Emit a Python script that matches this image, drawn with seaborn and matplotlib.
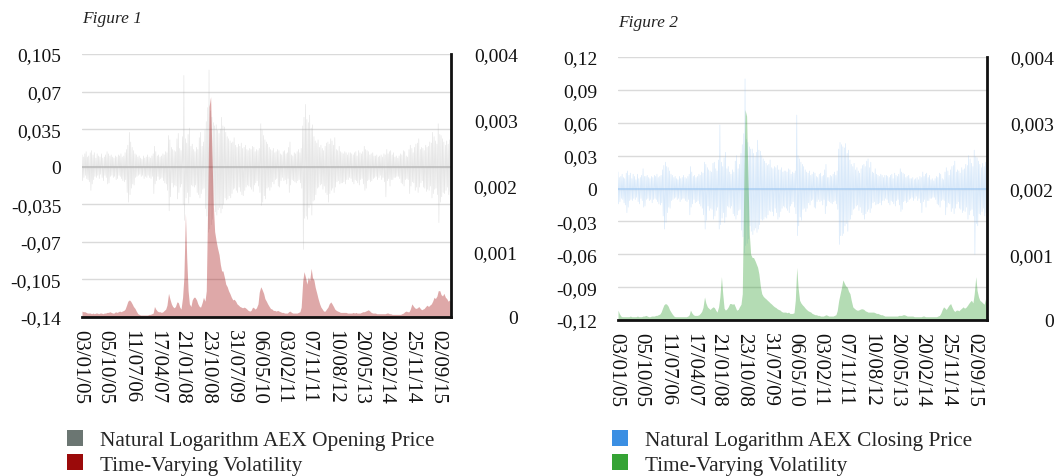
import numpy as np
import pandas as pd
import matplotlib
matplotlib.use("Agg")
import matplotlib.pyplot as plt
import seaborn as sns
from matplotlib.patches import Patch

# ---------------------------------------------------------------- data
date_labels = ["03/01/05", "05/10/05", "11/07/06", "17/04/07", "21/01/08",
               "23/10/08", "31/07/09", "06/05/10", "03/02/11", "07/11/11",
               "10/08/12", "20/05/13", "20/02/14", "25/11/14", "02/09/15"]

# Log returns (percent), four readings a month (1st, 8th, 15th, 22nd), 2005-2015
ret_open = [
    1.1, -1.3, 0.9, -1.0, 1.2, -0.8, 1.4, -1.1, 0.9, -1.2, 1.0, -1.4, 1.3, -2.2, 1.5, -1.6, 1.1, -1.2, 1.3, -0.9, 0.8, -1.0, 1.2, -0.8,
    1.0, -1.1, 0.9, -0.7, 1.2, -1.0, 0.8, -1.3, 0.9, -0.8, 1.1, -1.0, 1.4, -1.6, 1.2, -1.5, 1.0, -0.9, 1.1, -0.8, 0.9, -1.0, 0.8, -0.9,
    1.0, -1.2, 0.9, -1.1, 1.1, -0.8, 1.0, -0.9, 1.2, -1.1, 0.9, -1.3, 1.0, -1.4, 1.3, -1.2, 1.6, -2.4, 2.0, -3.3, 3.2, -2.6, 2.3, -2.0,
    1.8, -1.6, 1.5, -1.7, 1.2, -1.0, 1.1, -0.9, 0.9, -0.8, 1.0, -0.7, 0.8, -0.9, 0.7, -0.8, 1.0, -1.1, 0.8, -0.9, 0.9, -1.0, 1.1, -0.8,
    0.9, -1.0, 0.8, -1.1, 1.0, -0.9, 1.2, -2.5, 1.9, -1.6, 1.4, -1.3, 1.0, -0.9, 1.1, -1.2, 0.9, -1.1, 1.0, -1.0, 1.2, -1.3, 1.1, -1.5,
    1.4, -1.6, 1.3, -2.2, 2.9, -4.1, 2.5, -2.8, 1.8, -1.5, 1.6, -1.9, 1.5, -1.7, 1.4, -1.8, 2.6, -3.0, 3.1, -2.4, 1.7, -1.9, 1.5, -1.6,
    2.8, -3.5, 8.5, -5.0, 2.6, -2.9, 2.2, -2.4, 3.0, -3.4, 3.6, -2.8, 1.9, -1.7, 2.1, -1.8, 1.6, -1.9, 1.4, -1.7, 1.8, -2.4, 1.6, -2.6,
    2.7, -2.9, 3.2, -2.5, 1.9, -2.1, 2.3, -2.0, 3.4, -3.9, 4.2, -4.6, 5.5, -6.1, 9.0, -5.8, 5.2, -5.4, 4.6, -4.9, 4.1, -3.6, 3.8, -4.2,
    3.9, -4.5, 3.4, -4.0, 3.1, -3.8, 3.5, -4.3, 4.6, -3.9, 3.8, -3.5, 3.7, -2.9, 3.2, -3.1, 2.8, -3.0, 2.6, -2.7, 2.4, -2.9, 2.2, -2.5,
    2.3, -2.1, 2.7, -2.0, 2.0, -2.2, 1.8, -2.4, 2.1, -1.9, 1.9, -2.3, 2.2, -2.6, 1.7, -2.7, 1.8, -2.2, 2.0, -1.9, 1.6, -1.7, 1.5, -1.8,
    1.7, -1.9, 1.6, -2.1, 1.9, -2.3, 1.8, -1.7, 1.4, -1.5, 1.6, -1.3, 1.5, -1.8, 1.7, -2.4, 4.0, -3.6, 3.4, -3.3, 2.9, -2.7, 2.5, -3.0,
    2.3, -2.0, 2.1, -1.9, 1.8, -2.2, 1.6, -1.9, 1.5, -1.4, 1.7, -1.6, 1.3, -1.2, 1.4, -1.1, 1.6, -1.8, 1.5, -1.9, 1.2, -1.3, 1.1, -1.0,
    1.4, -1.3, 1.5, -1.2, 1.2, -1.6, 1.3, -1.1, 1.8, -2.4, 2.3, -1.7, 1.1, -1.2, 1.0, -1.3, 1.3, -1.4, 1.2, -1.5, 1.4, -1.3, 1.6, -1.2,
    1.3, -1.5, 1.7, -2.0, 3.8, -7.7, 4.6, -4.8, 5.8, -4.6, 4.4, -4.9, 4.1, -3.8, 4.8, -3.5, 3.6, -4.5, 3.9, -3.2, 2.8, -3.1, 2.4, -2.6,
    2.2, -2.0, 2.5, -1.9, 1.8, -1.7, 2.0, -1.6, 1.7, -2.1, 1.5, -1.8, 1.9, -2.4, 2.2, -2.6, 2.3, -3.3, 2.1, -2.5, 2.6, -2.2, 2.4, -2.0,
    2.0, -2.4, 2.7, -1.9, 1.6, -1.4, 1.5, -1.3, 1.9, -1.6, 1.4, -1.5, 1.3, -1.5, 1.2, -1.4, 1.4, -1.6, 1.3, -1.2, 1.1, -1.2, 1.3, -1.0,
    1.3, -1.1, 1.2, -1.4, 1.1, -1.6, 1.3, -1.2, 1.4, -1.3, 1.0, -1.5, 1.5, -1.7, 1.3, -1.2, 1.2, -1.1, 1.4, -1.6, 1.9, -2.2, 1.6, -2.0,
    1.5, -1.3, 1.4, -1.2, 1.1, -1.4, 1.2, -1.3, 1.3, -1.1, 1.0, -1.0, 1.0, -0.9, 1.1, -1.2, 0.9, -1.0, 1.0, -0.8, 1.1, -1.2, 0.9, -1.0,
    1.2, -1.4, 1.1, -2.8, 1.6, -1.3, 1.2, -1.1, 1.4, -1.8, 1.5, -1.2, 1.1, -1.2, 1.3, -1.0, 0.9, -1.0, 1.0, -0.9, 0.8, -0.9, 1.0, -1.1,
    1.2, -1.5, 1.1, -1.6, 1.5, -1.8, 1.4, -1.2, 1.0, -1.1, 0.9, -1.2, 1.6, -2.5, 2.0, -1.8, 1.7, -1.4, 1.3, -1.5, 1.8, -2.2, 2.1, -1.9,
    2.2, -2.4, 2.6, -1.9, 1.6, -1.5, 1.8, -1.3, 1.7, -1.9, 1.5, -2.0, 2.0, -2.3, 1.8, -2.1, 1.9, -2.2, 2.3, -1.8, 2.2, -2.9, 3.2, -2.5,
    2.8, -2.1, 2.4, -2.0, 2.1, -2.6, 4.0, -5.2, 3.0, -3.3, 2.9, -2.8, 2.6, -2.4, 2.3, -2.5, 2.0, -2.2, 2.4, -1.9, 2.1, -2.6, 2.5, -2.3,
]

ret_close = [
    1.5, -1.4, 1.0, -1.2, 1.1, -0.9, 1.3, -1.0, 1.0, -1.3, 0.9, -1.5, 1.4, -2.2, 1.6, -1.7, 1.2, -1.1, 1.4, -1.0, 0.9, -1.1, 1.3, -0.9,
    1.1, -1.0, 0.8, -0.8, 1.3, -1.2, 0.9, -1.4, 1.0, -0.9, 1.2, -1.1, 1.8, -1.7, 1.1, -1.6, 1.1, -1.0, 1.2, -0.9, 1.0, -1.1, 0.9, -1.0,
    1.1, -1.3, 1.0, -1.0, 1.2, -0.9, 1.1, -1.0, 1.3, -1.2, 1.0, -1.4, 1.1, -1.5, 1.2, -1.3, 1.7, -2.5, 2.1, -3.7, 2.4, -3.1, 2.0, -2.2,
    1.9, -1.7, 1.6, -1.8, 1.3, -1.1, 1.2, -1.0, 1.0, -0.9, 1.1, -0.8, 0.9, -1.0, 0.8, -0.9, 1.1, -1.2, 0.9, -1.0, 1.0, -0.9, 1.2, -0.9,
    1.0, -1.1, 0.9, -1.2, 1.1, -1.0, 1.3, -2.4, 2.0, -1.7, 1.5, -1.4, 1.1, -1.0, 1.2, -1.3, 1.0, -1.2, 1.1, -1.1, 1.3, -1.4, 1.2, -1.6,
    1.5, -1.8, 1.4, -2.4, 2.4, -3.7, 2.2, -2.9, 1.9, -1.6, 1.7, -2.0, 1.6, -1.8, 1.5, -1.9, 2.3, -2.8, 2.4, -2.5, 1.8, -2.0, 1.6, -1.7,
    2.6, -3.7, 5.8, -3.3, 2.4, -2.7, 2.0, -2.2, 2.8, -3.1, 3.3, -2.6, 1.8, -1.6, 2.0, -1.7, 1.5, -1.8, 1.3, -1.6, 1.7, -2.3, 1.5, -2.5,
    2.5, -2.8, 3.0, -2.4, 1.8, -2.0, 2.2, -1.9, 3.2, -3.8, 4.0, -4.4, 5.0, -5.9, 10.0, -5.2, 4.5, -5.0, 4.2, -4.6, 3.8, -3.4, 3.6, -3.9,
    3.6, -4.2, 3.2, -3.8, 2.9, -3.6, 3.3, -4.0, 4.4, -3.7, 3.5, -3.3, 3.4, -2.8, 3.0, -2.9, 2.7, -2.8, 2.5, -2.6, 2.3, -2.7, 2.1, -2.4,
    2.2, -2.0, 2.6, -2.1, 1.9, -2.1, 1.8, -2.5, 2.0, -1.8, 1.9, -2.2, 2.1, -2.8, 1.7, -2.6, 1.7, -2.1, 1.9, -1.8, 1.5, -1.6, 1.6, -1.7,
    1.6, -1.8, 1.5, -2.0, 1.8, -2.2, 1.7, -1.6, 1.3, -1.4, 1.5, -1.2, 1.4, -1.7, 1.6, -2.3, 6.7, -4.3, 3.0, -3.4, 2.7, -2.6, 2.4, -2.9,
    2.2, -1.9, 2.0, -1.8, 1.7, -2.1, 1.5, -1.8, 1.4, -1.3, 1.6, -1.5, 1.2, -1.1, 1.3, -1.0, 1.5, -1.7, 1.4, -1.8, 1.1, -1.2, 1.0, -1.0,
    1.3, -1.2, 1.4, -1.1, 1.1, -1.5, 1.2, -1.0, 1.7, -2.3, 2.2, -1.6, 1.0, -1.1, 1.0, -1.2, 1.2, -1.3, 1.1, -1.4, 1.3, -1.2, 1.5, -1.1,
    1.2, -1.4, 1.6, -1.9, 3.6, -5.1, 4.2, -4.3, 4.0, -4.3, 3.8, -4.1, 3.7, -3.4, 4.1, -3.2, 3.2, -3.9, 3.5, -2.9, 2.6, -2.8, 2.2, -2.4,
    2.0, -1.9, 2.3, -1.8, 1.7, -1.6, 1.9, -1.5, 1.6, -2.0, 1.4, -1.7, 1.8, -2.2, 2.1, -2.4, 2.2, -2.8, 2.0, -2.3, 2.5, -2.1, 2.7, -1.9,
    1.9, -2.2, 2.4, -1.8, 1.5, -1.3, 1.4, -1.2, 1.8, -1.5, 1.3, -1.4, 1.2, -1.4, 1.1, -1.3, 1.3, -1.5, 1.2, -1.1, 1.0, -1.1, 1.2, -0.9,
    1.2, -1.0, 1.1, -1.3, 1.0, -1.5, 1.2, -1.1, 1.3, -1.2, 0.9, -1.4, 1.4, -1.6, 1.2, -1.1, 1.1, -1.0, 1.3, -1.5, 1.8, -2.1, 1.5, -1.9,
    1.4, -1.2, 1.3, -1.1, 1.0, -1.3, 1.1, -1.2, 1.2, -1.0, 0.9, -0.9, 0.9, -0.8, 1.0, -1.1, 0.8, -0.9, 0.9, -0.7, 1.0, -1.1, 0.8, -0.9,
    1.1, -1.3, 1.0, -2.2, 1.5, -1.2, 1.1, -1.0, 1.3, -1.7, 1.4, -1.1, 1.0, -1.1, 1.2, -0.9, 0.8, -0.9, 0.9, -0.8, 0.7, -0.8, 0.9, -1.0,
    1.1, -1.4, 1.0, -1.5, 1.4, -1.7, 1.3, -1.1, 0.9, -1.0, 0.8, -1.1, 1.5, -2.4, 1.9, -1.7, 1.6, -1.3, 1.2, -1.4, 1.7, -2.1, 2.0, -1.8,
    2.1, -2.3, 2.5, -1.8, 1.5, -1.4, 1.7, -1.2, 1.6, -1.8, 1.4, -1.9, 1.9, -2.2, 1.7, -2.0, 1.8, -2.1, 2.2, -1.7, 2.1, -2.8, 3.0, -2.4,
    2.7, -2.0, 2.3, -1.9, 2.0, -2.5, 3.5, -6.0, 2.9, -3.2, 2.8, -3.4, 2.5, -2.3, 2.2, -2.4, 1.9, -2.1, 2.3, -1.8, 2.0, -2.5, 2.4, -2.2,
]

# Time-varying volatility (units of 1e-4), semi-monthly from Jan 2005 to Jan 2016
vol_open = [
    0.9, 0.8, 0.8, 0.7, 0.6, 0.6, 0.6, 0.5, 0.6, 0.5, 0.6, 0.6, 0.5, 0.6, 0.6, 0.5, 0.6, 0.6, 0.7, 0.7, 0.8, 0.7, 0.6, 0.6,
    0.8, 0.7, 0.8, 0.9, 0.8, 0.9, 1.0, 1.2, 1.8, 2.4, 2.6, 2.4, 2.0, 1.6, 1.3, 0.9, 0.5, 0.4, 0.3, 0.3, 0.3, 0.3, 0.3, 0.3,
    0.4, 0.4, 0.5, 0.6, 1.6, 1.2, 0.9, 0.8, 0.8, 0.7, 0.8, 1.0, 1.2, 1.8, 3.6, 2.8, 2.0, 1.6, 1.4, 1.6, 2.3, 2.2, 1.5, 1.2,
    3.0, 6.0, 15.8, 9.0, 4.0, 2.0, 1.6, 2.6, 3.0, 3.0, 2.6, 2.0, 1.6, 1.5, 2.2, 3.0, 2.4, 4.0, 18.0, 32.0, 33.5, 25.0, 17.0, 13.0,
    11.5, 10.5, 9.5, 8.0, 7.0, 7.0, 6.0, 5.0, 4.6, 4.0, 3.5, 3.0, 2.6, 2.7, 2.4, 2.0, 1.8, 1.6, 1.5, 1.4, 1.5, 1.4, 1.2, 1.0,
    0.9, 1.0, 1.5, 1.4, 1.2, 1.4, 2.0, 3.8, 4.6, 4.2, 3.6, 2.8, 2.4, 2.0, 1.6, 1.3, 1.2, 1.0, 1.0, 0.9, 1.0, 0.9, 0.8, 0.7,
    0.7, 0.6, 0.6, 0.6, 0.8, 0.9, 0.7, 0.6, 0.6, 0.6, 0.6, 0.7, 0.8, 1.5, 5.5, 6.9, 6.0, 5.0, 6.1, 5.5, 7.4, 6.0, 5.6, 4.5,
    3.6, 2.8, 2.0, 1.5, 1.2, 0.9, 0.9, 1.2, 1.5, 2.0, 2.3, 2.0, 1.6, 1.2, 1.0, 0.9, 0.8, 0.7, 0.7, 0.7, 0.7, 0.7, 0.6, 0.6,
    0.6, 0.6, 0.7, 0.6, 0.7, 0.6, 0.6, 0.6, 0.7, 0.8, 0.8, 0.9, 1.0, 1.1, 0.9, 0.7, 0.6, 0.6, 0.6, 0.5, 0.5, 0.5, 0.5, 0.5,
    0.5, 0.5, 0.6, 0.6, 0.5, 0.5, 0.4, 0.4, 0.4, 0.4, 0.4, 0.4, 0.4, 0.5, 0.6, 0.8, 0.9, 0.8, 0.8, 1.2, 2.0, 1.7, 1.4, 1.3,
    1.4, 1.6, 1.3, 1.1, 1.2, 1.3, 1.6, 1.8, 1.6, 1.8, 2.0, 2.4, 3.0, 2.8, 3.2, 4.0, 4.0, 3.4, 3.2, 3.6, 3.0, 2.8, 2.4, 2.6,
    2.2,
]

vol_close = [
    1.5, 1.0, 0.6, 0.5, 0.5, 0.5, 0.5, 0.5, 0.5, 0.6, 0.5, 0.5, 0.5, 0.5, 0.6, 0.5, 0.5, 0.5, 0.6, 0.6, 0.7, 0.6, 0.5, 0.5,
    0.6, 0.6, 0.6, 0.7, 0.7, 0.8, 0.9, 1.2, 1.8, 2.3, 2.5, 2.4, 2.1, 1.6, 1.2, 0.9, 0.6, 0.5, 0.5, 0.5, 0.5, 0.5, 0.5, 0.5,
    0.5, 0.5, 0.6, 0.8, 1.5, 1.1, 0.8, 0.7, 0.7, 0.7, 0.8, 1.0, 1.3, 1.9, 3.5, 2.6, 2.0, 1.8, 1.6, 1.8, 2.0, 1.9, 1.5, 1.2,
    2.0, 3.5, 6.6, 4.0, 1.8, 1.5, 1.7, 2.0, 2.5, 2.5, 2.4, 2.5, 2.0, 1.5, 1.6, 2.0, 2.4, 4.0, 20.0, 32.0, 31.0, 22.0, 13.0, 10.0,
    9.5, 9.5, 9.0, 8.5, 8.0, 7.0, 5.0, 4.0, 3.6, 3.4, 3.2, 3.0, 2.8, 2.6, 2.4, 2.2, 2.0, 1.9, 1.7, 1.6, 1.5, 1.3, 1.2, 1.2,
    1.2, 1.1, 1.2, 1.0, 1.0, 1.0, 1.1, 3.0, 8.0, 5.0, 3.0, 2.6, 2.3, 2.1, 1.8, 1.6, 1.4, 1.3, 1.2, 1.0, 0.9, 0.8, 0.8, 0.7,
    0.7, 0.6, 0.6, 0.6, 0.7, 0.8, 0.7, 0.6, 0.6, 0.6, 0.6, 0.7, 0.8, 1.4, 3.0, 3.9, 5.0, 6.1, 5.6, 5.2, 5.0, 4.4, 4.0, 3.0,
    2.0, 1.8, 1.6, 1.5, 1.5, 1.6, 1.7, 1.7, 1.6, 1.4, 1.3, 1.2, 1.2, 1.2, 1.2, 1.2, 1.1, 1.0, 1.0, 0.9, 0.8, 0.8, 0.7, 0.6,
    0.6, 0.6, 0.6, 0.6, 0.6, 0.6, 0.6, 0.6, 0.6, 0.7, 0.7, 0.7, 0.8, 0.8, 0.7, 0.6, 0.6, 0.6, 0.6, 0.6, 0.5, 0.5, 0.5, 0.5,
    0.5, 0.5, 0.6, 0.6, 0.5, 0.5, 0.5, 0.5, 0.5, 0.5, 0.5, 0.5, 0.5, 0.6, 0.7, 1.0, 1.6, 2.0, 1.8, 1.6, 2.0, 2.3, 2.5, 2.0,
    1.5, 1.3, 1.5, 1.5, 1.4, 1.6, 1.8, 2.0, 1.8, 1.9, 2.2, 2.5, 2.8, 3.0, 2.6, 4.0, 6.6, 4.5, 3.5, 3.0, 2.8, 2.6, 2.4, 3.2,
    2.5,
]

open_ticks = [-0.14, -0.105, -0.07, -0.035, 0.0, 0.035, 0.07, 0.105]
open_tick_labels = ["-0,14", "-0,105", "-0,07", "-0,035", "0", "0,035", "0,07", "0,105"]
close_ticks = [-0.12, -0.09, -0.06, -0.03, 0.0, 0.03, 0.06, 0.09, 0.12]
close_tick_labels = ["-0,12", "-0,09", "-0,06", "-0,03", "0", "0,03", "0,06", "0,09", "0,12"]
vol_ticks = [0.0, 0.001, 0.002, 0.003, 0.004]
vol_tick_labels = ["0", "0,001", "0,002", "0,003", "0,004"]

# ---------------------------------------------------------------- style
sns.set_theme(style="white")
plt.rcParams["font.family"] = ["Liberation Serif", "DejaVu Serif"]
plt.rcParams["axes.linewidth"] = 2

W, H = 1057, 477
fig = plt.figure(figsize=(W / 100, H / 100), dpi=100)

ret_dates = [pd.Timestamp(y, m, d) for y in range(2005, 2016)
             for m in range(1, 13) for d in (1, 8, 15, 22)]
vol_dates = pd.date_range("2005-01-01", periods=len(vol_open), freq="SMS")
tick_dates = pd.to_datetime(date_labels, format="%d/%m/%y")


def panel(px_left, px_top, ret, vol, ret_color, ret_alpha, zero_color,
          vol_color, ticks, tick_labels, title, title_y, legend_items,
          legend_xy):
    left = px_left / W
    width = 369 / W
    bottom = 1 - (px_top + 263) / H
    height = 263 / H
    ax = fig.add_axes([left, bottom, width, height])

    df = pd.DataFrame({"date": ret_dates, "ret": np.array(ret) / 100.0})
    ax.set_axisbelow(True)
    ax.grid(axis="y", color="#dadada", lw=1)
    ax.grid(axis="x", visible=False)
    ax.axhline(0, color=zero_color, lw=1.4, zorder=1)
    sns.lineplot(data=df, x="date", y="ret", ax=ax, color=ret_color,
                 lw=0.5, alpha=ret_alpha, errorbar=None, sort=False,
                 legend=False)
    ax.set_ylim(ticks[0], ticks[-1])
    ax.set_yticks(ticks)
    ax.set_yticklabels(tick_labels)
    ax.set_xlim(vol_dates[0], vol_dates[-1])
    ax.set_xticks(tick_dates)
    ax.set_xticklabels(date_labels, rotation=-90, rotation_mode="anchor",
                       ha="left", va="center_baseline")
    ax.tick_params(axis="y", length=0, pad=15, labelsize=14, colors="#111111")
    ax.tick_params(axis="x", length=0, pad=9, labelsize=15, colors="#111111")
    ax.set_xlabel("")
    ax.set_ylabel("")
    for s in ax.spines.values():
        s.set_visible(False)

    ax2 = ax.twinx()
    ax2.fill_between(vol_dates, 0, np.array(vol) * 1e-4, color=vol_color,
                     alpha=0.36, lw=0)
    ax2.set_ylim(vol_ticks[0], vol_ticks[-1])
    ax2.set_yticks(vol_ticks)
    ax2.set_yticklabels(vol_tick_labels)
    ax2.tick_params(axis="y", length=0, pad=48, labelsize=14, colors="#111111")
    for lab in ax2.get_yticklabels():
        lab.set_horizontalalignment("right")
    ax2.grid(False)
    for name, s in ax2.spines.items():
        if name in ("right", "bottom"):
            s.set_visible(True)
            s.set_color("#111111")
            s.set_linewidth(2)
        else:
            s.set_visible(False)

    fig.text(left, 1 - title_y / H, title, fontsize=12.5, style="italic",
             color="#222222", ha="left", va="baseline")

    handles = [Patch(facecolor=c, edgecolor="none") for c, _ in legend_items]
    labels = [t for _, t in legend_items]
    fig.legend(handles, labels, loc="upper left",
               bbox_to_anchor=(legend_xy[0] / W, 1 - legend_xy[1] / H),
               frameon=False, fontsize=15.3, handlelength=0.75,
               handleheight=0.75, handletextpad=0.8, labelspacing=0.2,
               borderpad=0, borderaxespad=0)


panel(82, 55, ret_open, vol_open, "#a6a6a6", 0.28, "#cdcdcd", "#a50f0f",
      open_ticks, open_tick_labels, "Figure 1", 23,
      [("#6b7672", "Natural Logarithm AEX Opening Price"),
       ("#9b0a0a", "Time-Varying Volatility")], (67, 431))

panel(618, 58, ret_close, vol_close, "#93c2f2", 0.35, "#c6def6", "#2f9e2f",
      close_ticks, close_tick_labels, "Figure 2", 27,
      [("#3b8fe3", "Natural Logarithm AEX Closing Price"),
       ("#35a335", "Time-Varying Volatility")], (612, 431))

fig.savefig("out.png", dpi=100)
